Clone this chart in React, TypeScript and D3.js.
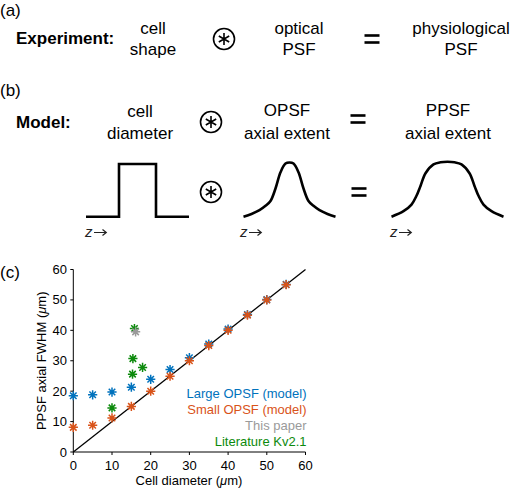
import React from "react";
import * as d3 from "d3";

// ---- Data (panel c) ----
const diameters = [0, 5, 10, 15, 20, 25, 30, 35, 40, 45, 50, 55];
const largeOPSF = [18.5, 18.8, 19.7, 21.3, 23.9, 27.1, 31.0, 35.5, 40.4, 45.2, 50.1, 55.1];
const smallOPSF = [8.1, 8.8, 11.2, 15.0, 20.0, 24.9, 30.0, 35.0, 40.0, 45.0, 50.0, 55.0];
const thisPaperX = [16.1];
const thisPaperY = [39.5];
const literatureX = [10, 15.3, 15.4, 15.8, 17.9];
const literatureY = [14.5, 25.6, 30.7, 40.6, 27.8];
const ticks = [0, 10, 20, 30, 40, 50, 60];
const identityLine = [0, 60];
const legendLabels = ["Large OPSF (model)", "Small OPSF (model)", "This paper", "Literature Kv2.1"];

// ---- schematic shapes (panel b), relative coordinates: dx from centre, height 0..1 ----
const opsfDx = [-46, -38, -30, -24, -19, -14, -9, -4, 0, 4, 9, 14, 19, 24, 30, 38, 46];
const opsfH = [0, 0.05, 0.12, 0.2, 0.29, 0.52, 0.82, 0.98, 1, 0.98, 0.82, 0.52, 0.29, 0.2, 0.12, 0.05, 0];
const ppsfDx = [-56, -44, -36, -31, -27, -22, -14, -7, 0, 7, 14, 22, 27, 31, 36, 44, 56];
const ppsfH = [0, 0.1, 0.22, 0.38, 0.56, 0.79, 0.95, 0.99, 1, 0.99, 0.95, 0.79, 0.56, 0.38, 0.22, 0.1, 0];

const COLORS = ["#0072BD", "#D95319", "#9a9a9a", "#0c8a0c"];
const FONT = "'Liberation Sans', Arial, Helvetica, sans-serif";

const x = d3.scaleLinear().domain([0, 60]).range([73.3, 305.5]);
const y = d3.scaleLinear().domain([0, 60]).range([452, 269.5]);

function star(r: number) {
  const a = r * 0.7071;
  return `M${-r},0L${r},0M0,${-r}L0,${r}M${-a},${-a}L${a},${a}M${-a},${a}L${a},${-a}`;
}

function CircAst({ cx, cy }: { cx: number; cy: number }) {
  const r = 6;
  const arms = [90, 30, -30].map((deg) => {
    const t = (deg * Math.PI) / 180;
    return `M${cx - r * Math.cos(t)},${cy - r * Math.sin(t)}L${cx + r * Math.cos(t)},${cy + r * Math.sin(t)}`;
  });
  return (
    <g fill="none" stroke="#000" strokeWidth={1.6}>
      <circle cx={cx} cy={cy} r={10.5} />
      <path d={arms.join("")} />
    </g>
  );
}

function Equals({ cx, cy }: { cx: number; cy: number }) {
  return (
    <g fill="#000">
      <rect x={cx - 7.5} y={cy - 4.8} width={15} height={2.6} />
      <rect x={cx - 7.5} y={cy + 2.2} width={15} height={2.6} />
    </g>
  );
}

function Zarrow({ x0, y0 }: { x0: number; y0: number }) {
  const ay = y0 - 4.5;
  return (
    <g>
      <text x={x0} y={y0} fontSize={15} fontFamily={FONT} fontStyle="italic" fill="#222">
        z
      </text>
      <path
        d={`M${x0 + 9},${ay}H${x0 + 21}M${x0 + 17.5},${ay - 3}L${x0 + 21.3},${ay}L${x0 + 17.5},${ay + 3}`}
        fill="none"
        stroke="#222"
        strokeWidth={1.2}
      />
    </g>
  );
}

export default function App() {
  const base = 216.7;
  const top = 162.5;
  const h = base - top;
  const shapeLine = d3
    .line<[number, number]>()
    .x((d) => d[0])
    .y((d) => d[1])
    .curve(d3.curveCatmullRom.alpha(0.5));
  const opsfPts: [number, number][] = opsfDx.map((dx, i) => [289.5 + dx, base - opsfH[i] * h]);
  const ppsfPts: [number, number][] = ppsfDx.map((dx, i) => [447.5 + dx, base - ppsfH[i] * (h + 0.8)]);

  const series = [
    { xs: diameters, ys: largeOPSF, c: COLORS[0] },
    { xs: diameters, ys: smallOPSF, c: COLORS[1] },
    { xs: literatureX, ys: literatureY, c: COLORS[3] },
    { xs: thisPaperX, ys: thisPaperY, c: COLORS[2] },
  ];

  const topText = { fontFamily: FONT, fontSize: 17 } as const;

  return (
    <svg
      width={510}
      height={488}
      style={{ position: "absolute", left: 0, top: 0, background: "#fff" }}
    >
      {/* Panel (a) */}
      <g {...topText}>
        <text x={0} y={16}>(a)</text>
        <text x={16} y={44} fontWeight="bold">Experiment:</text>
        <text x={153} y={34} textAnchor="middle">cell</text>
        <text x={153} y={55} textAnchor="middle">shape</text>
        <text x={299} y={34} textAnchor="middle">optical</text>
        <text x={299} y={55} textAnchor="middle">PSF</text>
        <text x={461} y={34} textAnchor="middle">physiological</text>
        <text x={461} y={55} textAnchor="middle">PSF</text>
      </g>
      <CircAst cx={224} cy={39} />
      <Equals cx={372} cy={39} />

      {/* Panel (b) */}
      <g {...topText}>
        <text x={0} y={96}>(b)</text>
        <text x={16} y={128} fontWeight="bold">Model:</text>
        <text x={140} y={117} textAnchor="middle">cell</text>
        <text x={140} y={139} textAnchor="middle">diameter</text>
        <text x={287} y={116} textAnchor="middle">OPSF</text>
        <text x={287} y={139} textAnchor="middle">axial extent</text>
        <text x={448} y={116} textAnchor="middle">PPSF</text>
        <text x={448} y={139} textAnchor="middle">axial extent</text>
      </g>
      <CircAst cx={211} cy={122} />
      <Equals cx={358} cy={119} />

      <path
        d={`M86,${base}H119V164H156V${base}H189`}
        fill="none"
        stroke="#000"
        strokeWidth={2.6}
      />
      <path d={shapeLine(opsfPts) || ""} fill="none" stroke="#000" strokeWidth={2.6} />
      <path d={shapeLine(ppsfPts) || ""} fill="none" stroke="#000" strokeWidth={2.6} />
      <CircAst cx={211} cy={192} />
      <Equals cx={359} cy={192} />
      <Zarrow x0={85} y0={237} />
      <Zarrow x0={240} y0={237} />
      <Zarrow x0={390} y0={237} />

      {/* Panel (c) */}
      <text x={0} y={278} fontFamily={FONT} fontSize={17}>(c)</text>
      <g fontFamily={FONT} fontSize={13}>
        {/* axes */}
        <line x1={x(0)} x2={x(60)} y1={y(0)} y2={y(0)} stroke="#000" strokeWidth={1} />
        <line x1={x(0)} x2={x(0)} y1={y(0)} y2={y(60)} stroke="#000" strokeWidth={1} />
        {ticks.map((t) => (
          <g key={"xt" + t}>
            <line x1={x(t)} x2={x(t)} y1={y(0)} y2={y(0) + 3} stroke="#000" />
            <text x={x(t)} y={469.5} textAnchor="middle">{t}</text>
          </g>
        ))}
        {ticks.map((t) => (
          <g key={"yt" + t}>
            <line x1={x(0) - 3} x2={x(0)} y1={y(t)} y2={y(t)} stroke="#000" />
            <text x={67} y={y(t) + 4.5} textAnchor="end">{t}</text>
          </g>
        ))}
        <text x={189} y={484.5} textAnchor="middle">
          Cell diameter (<tspan fontStyle="italic">μ</tspan>m)
        </text>
        <text
          transform={`translate(46,${(y(0) + y(60)) / 2}) rotate(-90)`}
          textAnchor="middle"
        >
          PPSF axial FWHM (<tspan fontStyle="italic">μ</tspan>m)
        </text>

        {/* identity line */}
        <line
          x1={x(identityLine[0])}
          y1={y(identityLine[0])}
          x2={x(identityLine[1])}
          y2={y(identityLine[1])}
          stroke="#000"
          strokeWidth={1.3}
        />

        {/* markers */}
        {series.map((s, si) =>
          s.xs.map((xv, i) => (
            <path
              key={si + "-" + i}
              d={star(4.6)}
              transform={`translate(${x(xv)},${y(s.ys[i])})`}
              stroke={s.c}
              strokeWidth={1.5}
              fill="none"
            />
          ))
        )}

        {/* legend */}
        {legendLabels.map((lab, i) => (
          <text
            key={lab}
            x={306.5}
            y={397.5 + i * 16}
            textAnchor="end"
            fill={COLORS[i]}
          >
            {lab}
          </text>
        ))}
      </g>
    </svg>
  );
}
